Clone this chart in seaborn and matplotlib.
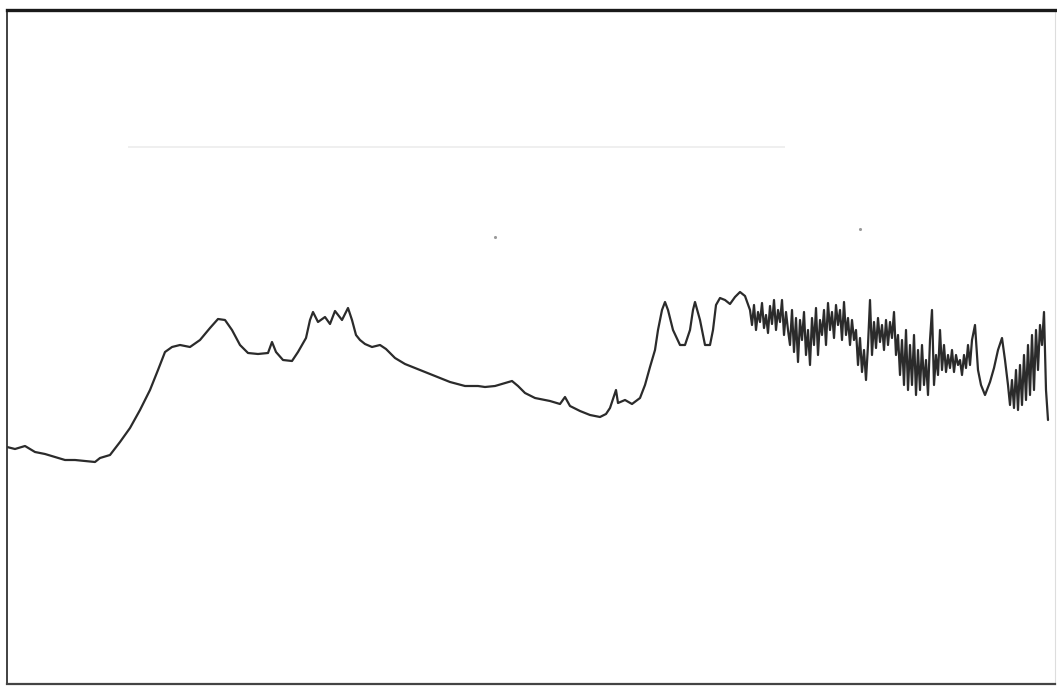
import matplotlib
matplotlib.use("Agg")
import matplotlib.pyplot as plt
import seaborn as sns
import pandas as pd

# Spectrum trace: channel position and measured intensity
channel = [
    0, 8, 18, 28, 38, 48, 58, 68, 78, 88,
    93, 103, 113, 123, 133, 143, 151, 158, 165, 173,
    183, 193, 203, 211, 218, 225, 233, 241, 251, 261,
    265, 269, 276, 285, 291, 295, 299, 303, 306, 311,
    318, 323, 328, 335, 341, 345, 349, 353, 358, 365,
    373, 379, 388, 398, 413, 428, 443, 458, 471, 478,
    488, 498, 505, 511, 518, 528, 543, 553, 558, 563,
    573, 583, 593, 599, 603, 607, 609, 611, 618, 625,
    633, 638, 643, 648, 651, 655, 658, 661, 666, 673,
    678, 683, 686, 688, 693, 698, 703, 706, 709, 713,
    718, 723, 728, 733, 738, 743,
    745, 747, 749, 751, 753, 755, 757, 759, 761, 763,
    765, 767, 769, 771, 773, 775, 777, 779, 781, 783,
    785, 787, 789, 791, 793, 795, 797, 799, 801, 803,
    805, 807, 809, 811, 813, 815, 817, 819, 821, 823,
    825, 827, 829, 831, 833, 835, 837, 839, 841, 843,
    845, 847, 849, 851, 853, 855, 857, 859, 861, 863,
    865, 867, 869, 871, 873, 875, 877, 879, 881, 883,
    885, 887, 889, 891, 893, 895, 897, 899, 901, 903,
    905, 907, 909, 911, 913, 915, 917, 919, 921, 923,
    925, 927, 929, 931, 933, 935, 937, 939, 941, 943,
    945, 947, 949, 951, 953, 955, 957, 959, 961, 963,
    965, 968, 971, 974, 978, 983, 987, 991, 995, 998,
    1001, 1003, 1005, 1007, 1009, 1011, 1013, 1015, 1017, 1019,
    1021, 1023, 1025, 1027, 1029, 1031, 1033, 1035, 1037, 1039,
    1041,
]
intensity = [
    237, 235, 238, 232, 230, 227, 224, 224, 223, 222,
    226, 229, 242, 256, 274, 294, 314, 332, 337, 339,
    337, 344, 356, 365, 364, 354, 339, 331, 330, 331,
    342, 332, 324, 323, 332, 339, 346, 364, 372, 362,
    367, 360, 373, 364, 376, 364, 349, 344, 340, 337,
    339, 335, 326, 320, 314, 308, 302, 298, 298, 297,
    298, 301, 303, 298, 291, 286, 283, 280, 287, 278,
    273, 269, 267, 270, 276, 288, 294, 281, 284, 280,
    286, 299, 317, 334, 354, 374, 382, 374, 354, 339,
    339, 354, 374, 382, 364, 339, 339, 354, 379, 386,
    384, 380, 387, 392, 388, 374,
    359, 379, 354, 372, 362, 381, 356, 369, 351, 378,
    360, 384, 354, 374, 362, 384, 349, 372, 354, 339,
    374, 332, 366, 322, 364, 344, 372, 329, 354, 319,
    366, 339, 376, 329, 364, 349, 374, 339, 381, 354,
    372, 346, 379, 359, 374, 344, 382, 349, 366, 339,
    364, 344, 354, 319, 346, 312, 334, 304, 339, 384,
    329, 362, 336, 366, 342, 359, 334, 364, 339, 362,
    346, 372, 329, 349, 309, 344, 299, 354, 294, 339,
    299, 349, 289, 334, 294, 339, 299, 324, 289, 344,
    374, 299, 329, 309, 354, 314, 339, 312, 329, 316,
    334, 312, 329, 319, 324, 309, 329, 316, 339, 319,
    344, 359, 314, 299, 289, 302, 316, 334, 346, 324,
    299, 279, 304, 276, 314, 274, 319, 279, 329, 284,
    339, 289, 349, 294, 354, 314, 359, 339, 372, 294,
    264,
]

# Faint reference level and two stray calibration marks
ref_level = 537
ref_start, ref_end = 121, 778
marks_x = [488, 853]
marks_y = [447, 455]

df = pd.DataFrame({"channel": channel, "intensity": intensity})

sns.set_style("white")
fig = plt.figure(figsize=(10.57, 6.86), dpi=100)
ax = fig.add_axes([7 / 1057, 2 / 686, 1048 / 1057, 674 / 686])

ax.hlines(ref_level, ref_start, ref_end, color="#ececec", lw=1.2)
ax.scatter(marks_x, marks_y, s=5, color="#9a9a9a", linewidths=0)

sns.lineplot(data=df, x="channel", y="intensity", ax=ax, sort=False,
             estimator=None, color="#2b2b2b", lw=1.6)

ax.set_xlim(0, 1048)
ax.set_ylim(0, 674)
ax.set_xticks([])
ax.set_yticks([])
ax.set_xlabel("")
ax.set_ylabel("")

for side, w, c in [("top", 2.4, "#1a1a1a"), ("left", 1.3, "#333333"),
                   ("bottom", 1.6, "#444444"), ("right", 0.8, "#dddddd")]:
    ax.spines[side].set_visible(True)
    ax.spines[side].set_linewidth(w)
    ax.spines[side].set_color(c)

fig.savefig("out.png", dpi=100)
